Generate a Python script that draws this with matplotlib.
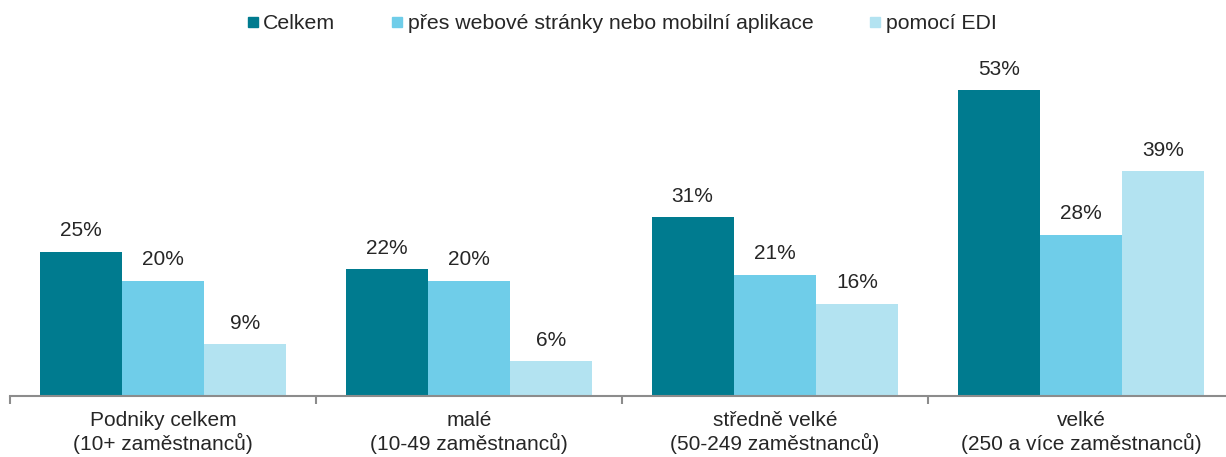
import numpy as np
import matplotlib.pyplot as plt

plt.rcParams['font.family'] = ['Liberation Sans', 'DejaVu Sans']

categories = ['Podniky celkem\n(10+ zaměstnanců)', 'malé\n(10-49 zaměstnanců)',
              'středně velké\n(50-249 zaměstnanců)', 'velké\n(250 a více zaměstnanců)']
series_names = ['Celkem', 'přes webové stránky nebo mobilní aplikace', 'pomocí EDI']
celkem = [25, 22, 31, 53]
web = [20, 20, 21, 28]
edi = [9, 6, 16, 39]
colors = ['#007B8F', '#6FCDE9', '#B3E3F1']

W, H = 1226, 457
fig = plt.figure(figsize=(W / 100, H / 100), dpi=100)
ax = fig.add_axes([10 / W, (H - 396) / H, 1224 / W, (396 - 50) / H])

x = np.arange(len(categories))
bw = 0.269
txt = '#262626'
for i, (vals, name) in enumerate(zip([celkem, web, edi], series_names)):
    pos = x + (i - 1) * bw
    ax.bar(pos, vals, width=bw, color=colors[i], label=name, zorder=2)
    for p, v in zip(pos, vals):
        ax.text(p, v + 2.0, f'{v}%', ha='center', va='bottom', fontsize=15, color=txt)

ax.set_xlim(-0.5, 3.5)
ax.set_ylim(0, 60)
for s in ['top', 'right', 'left']:
    ax.spines[s].set_visible(False)
ax.spines['bottom'].set_color('#8c8c8c')
ax.spines['bottom'].set_linewidth(1.5)
ax.set_yticks([])
ax.set_xticks(x)
ax.set_xticklabels(categories, fontsize=15, color=txt, linespacing=1.2)
ax.tick_params(axis='x', which='major', length=0, pad=10.5)
ax.set_xticks(np.arange(-0.5, 4, 1), minor=True)
ax.tick_params(axis='x', which='minor', length=6, width=1.5, color='#8c8c8c')

handles = [plt.Line2D([], [], marker='s', linestyle='none', markersize=7.5,
                      color=c) for c in colors]
fig.legend(handles, series_names, loc='upper center', bbox_to_anchor=(0.506, 1.011),
           ncol=3, frameon=False, fontsize=15.3, handletextpad=0.1,
           columnspacing=2.5, handlelength=0.8, labelcolor=txt)

fig.savefig('out.png', dpi=100)
